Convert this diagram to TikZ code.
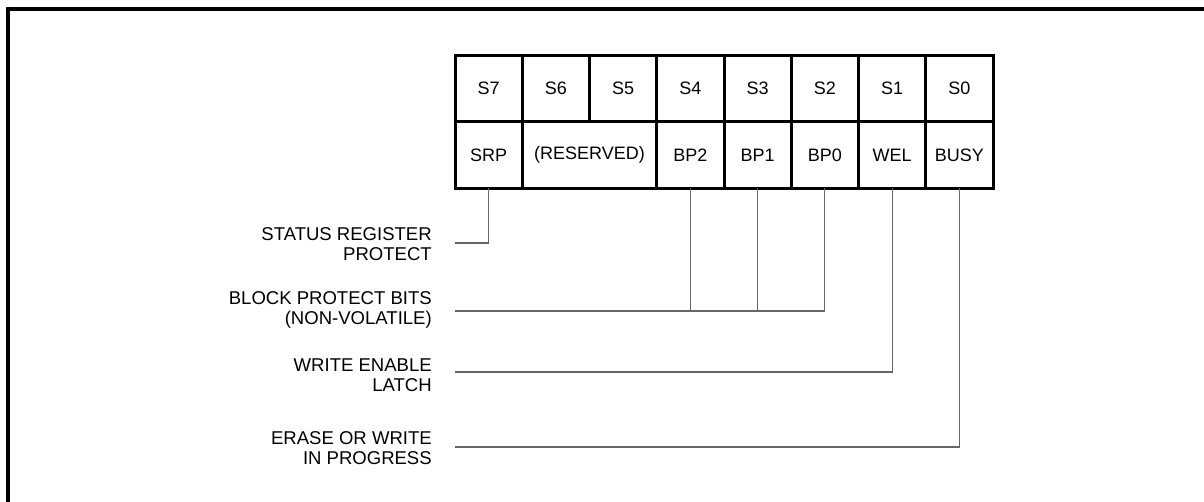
\documentclass[tikz,border=0pt]{standalone}
\usepackage{fontspec}
\setmainfont{Liberation Sans}
\begin{document}
\begin{tikzpicture}[x=0.75pt,y=-0.75pt,
  cell/.style={draw=black,line width=2.25pt,rectangle,minimum height=49.9pt,inner sep=0pt,outer sep=0pt,font=\fontsize{13.5}{15}\selectfont},
  one/.style={cell,minimum width=50.44pt},
  two/.style={cell,minimum width=100.88pt},
  lbl/.style={align=right,anchor=east,inner sep=0pt,font=\fontsize{13.9}{15}\selectfont},
  conn/.style={draw=black!60,line width=0.9pt}]
\useasboundingbox (0,0) rectangle (1204,502);
\draw[line width=2.4pt] (8,502) -- (8,9) -- (1204,9);
% top row
\foreach \n/\i in {S7/0,S6/1,S5/2,S4/3,S3/4,S2/5,S1/6,S0/7}{
  \node[one] (t\i) at ({455+67.25*(\i+0.5)},88.5) {\n};
}
% bottom row
\node[one] (srp) at ({455+67.25*0.5},155) {SRP};
\node[two] (res) at ({455+67.25*2},155) {(RESERVED)};
\node[one] (bp2) at ({455+67.25*3.5},155) {BP2};
\node[one] (bp1) at ({455+67.25*4.5},155) {BP1};
\node[one] (bp0) at ({455+67.25*5.5},155) {BP0};
\node[one] (wel) at ({455+67.25*6.5},155) {WEL};
\node[one] (busy) at ({455+67.25*7.5},155) {BUSY};
% labels
\node[lbl] (lsrp) at (432,244) {STATUS REGISTER\\PROTECT};
\node[lbl] (lbp) at (432,310) {BLOCK PROTECT BITS\\(NON-VOLATILE)};
\node[lbl] (lwel) at (432,375) {WRITE ENABLE\\LATCH};
\node[lbl] (lbusy) at (432,448) {ERASE OR WRITE\\IN PROGRESS};
\coordinate (csrp) at (455,243);
\coordinate (cbp) at (455,311);
\coordinate (cwel) at (455,372);
\coordinate (cbusy) at (455,447);
% connectors
\draw[conn] (srp.south) |- (csrp);
\draw[conn] (bp0.south) |- (cbp);
\draw[conn] (bp1.south) -- (bp1.south |- cbp);
\draw[conn] (bp2.south) -- (bp2.south |- cbp);
\draw[conn] (wel.south) |- (cwel);
\draw[conn] (busy.south) |- (cbusy);
\end{tikzpicture}
\end{document}
